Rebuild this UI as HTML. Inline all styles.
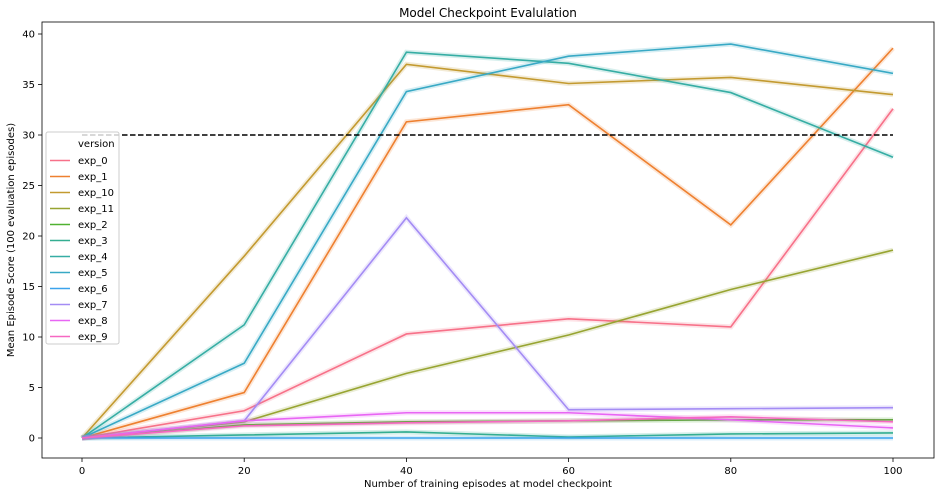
<!DOCTYPE html>
<html><head><meta charset="utf-8"><style>
body{margin:0;background:#fff;font-family:"Liberation Sans","DejaVu Sans",sans-serif;}
svg text{font-family:"DejaVu Sans","Liberation Sans",sans-serif;}
</style></head><body>
<svg id="chart" width="944" height="496" xmlns="http://www.w3.org/2000/svg">
<rect x="0" y="0" width="944" height="496" fill="#fff"/>
<text x="488" y="17" text-anchor="middle" font-size="12">Model Checkpoint Evalulation</text>
<g id="plot"></g>
<rect x="42" y="22" width="892" height="436" fill="none" stroke="#000" stroke-width="0.8"/>
<text x="488" y="487" text-anchor="middle" font-size="10">Number of training episodes at model checkpoint</text>
<text transform="translate(14,240) rotate(-90)" text-anchor="middle" font-size="10">Mean Episode Score (100 evaluation episodes)</text>
<g id="legend"></g>
</svg>
<script>
const xCats=[0,20,40,60,80,100];
const xTicks=[0,20,40,60,80,100];
const yTicks=[0,5,10,15,20,25,30,35,40];
const seriesNames=["exp_0","exp_1","exp_10","exp_11","exp_2","exp_3","exp_4","exp_5","exp_6","exp_7","exp_8","exp_9"];
const exp_0=[0,2.7,10.3,11.8,11.0,32.6];
const exp_1=[0,4.5,31.3,33.0,21.1,38.6];
const exp_10=[0,18.0,37.0,35.1,35.7,34.0];
const exp_11=[0,1.6,6.4,10.2,14.7,18.6];
const exp_2=[0,1.3,1.6,1.7,1.8,1.8];
const exp_3=[0,0.3,0.6,0.1,0.4,0.5];
const exp_4=[0,11.2,38.2,37.1,34.2,27.8];
const exp_5=[0,7.4,34.3,37.8,39.0,36.1];
const exp_6=[0,0,0,0,0,0];
const exp_7=[0,1.7,21.8,2.8,2.9,3.0];
const exp_8=[0,1.7,2.5,2.5,1.8,1.0];
const exp_9=[0,1.2,1.5,1.7,2.1,1.6];
const threshold=30;
const seriesValues=[exp_0,exp_1,exp_10,exp_11,exp_2,exp_3,exp_4,exp_5,exp_6,exp_7,exp_8,exp_9];
const colors=["#f77189","#ee8030","#c39a30","#97a431","#50b131","#34ae91","#36ada4","#38a9c5","#3ba3ec","#a48cf4","#e866f4","#f668c2"];
const NS="http://www.w3.org/2000/svg";
const xs=v=>82+(v-0)*(893-82)/100;
const ys=v=>438-v*(438-34)/40;
const plot=document.getElementById('plot');
function mk(tag,attrs,parent){const e=document.createElementNS(NS,tag);for(const k in attrs)e.setAttribute(k,attrs[k]);parent.appendChild(e);return e;}
xTicks.forEach(t=>{
  const l=mk('line',{x1:xs(t),x2:xs(t),y1:458,y2:462,stroke:'#000','stroke-width':0.8},plot);
  
  
  const tx=mk('text',{x:xs(t),y:474,'text-anchor':'middle','font-size':10},plot);tx.textContent=t;
  
  
});
yTicks.forEach(t=>{
  const l=mk('line',{x1:38,x2:42,y1:ys(t),y2:ys(t),stroke:'#000','stroke-width':0.8},plot);
  
  
  const tx=mk('text',{x:35,y:ys(t)+3.5,'text-anchor':'end','font-size':10},plot);tx.textContent=t;
  
  
});
seriesValues.forEach((vals,i)=>{
  const pts=vals.map((v,j)=>xs(xCats[j])+','+ys(v)).join(' ');
  const band=mk('polyline',{points:pts,fill:'none',stroke:colors[i],'stroke-width':5,'stroke-opacity':0.2},plot);
  
  
  const pl=mk('polyline',{points:pts,fill:'none',stroke:colors[i],'stroke-width':1.6},plot);
  
  
});
const th=mk('line',{x1:xs(0),x2:xs(100),y1:ys(threshold),y2:ys(threshold),stroke:'#000','stroke-width':1.5,'stroke-dasharray':'5.5,2.5'},plot);


const lg=document.getElementById('legend');
const box=mk('rect',{x:46,y:132,width:73,height:212,rx:2,fill:'#fff','fill-opacity':0.8,stroke:'#ccc'},lg);


const lt=mk('text',{x:78,y:147,'font-size':10},lg);lt.textContent='version';


seriesNames.forEach((n,i)=>{
  const y=160.5+i*16;
  const l=mk('line',{x1:50,x2:70,y1:y,y2:y,stroke:colors[i],'stroke-width':1.6},lg);
  
  
  const t=mk('text',{x:78,y:y+3.5,'font-size':10},lg);t.textContent=n;
  
  
});
</script>
</body></html>
